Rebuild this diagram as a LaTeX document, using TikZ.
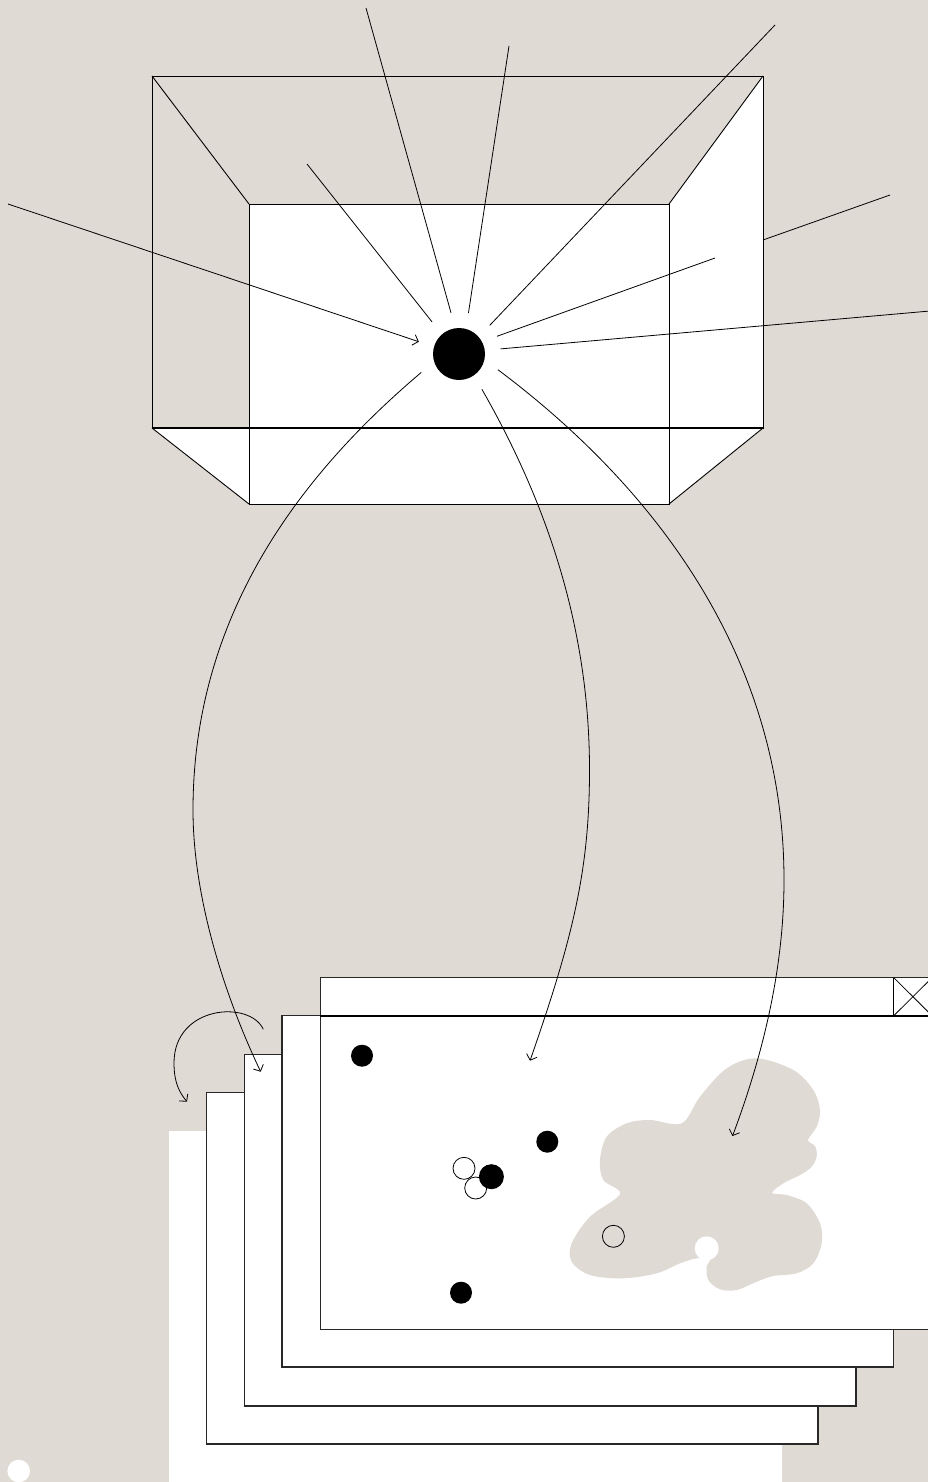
\documentclass[tikz,border=0pt]{standalone}
\usepackage{tikz}
\usetikzlibrary{arrows.meta}
\definecolor{paper}{RGB}{224,218,212}
\definecolor{inkgrey}{RGB}{40,40,40}

\begin{document}
\begin{tikzpicture}[x=1pt,y=-1pt,
    ray/.style={line width=0.8pt},
    flow/.style={line width=0.8pt,-{Straight Barb[length=5pt,width=11pt]}},
    sheet/.style={fill=white,draw=inkgrey,line width=1.1pt},
    dot/.style={circle,fill=black,inner sep=0pt,minimum size=22pt},
    hole/.style={circle,draw=black,line width=0.8pt,inner sep=0pt,minimum size=22pt}]
  \useasboundingbox (0,0) rectangle (928,1482);
  \fill[paper] (0,0) rectangle (928,1482);

  % --- TOP: the box seen in perspective --------------------------------
  \fill[white] (249,204) -- (669,204) -- (763,76) -- (763,428) -- (669,504)
    -- (249,504) -- (152,428) -- (249,428) -- cycle;
  \draw[line width=0.9pt] (152,76) rectangle (763,428);
  \draw[line width=0.9pt] (249,204) rectangle (669,504);
  \draw[line width=1.4pt] (152,428) -- (763,428);
  \draw[line width=0.9pt] (152,76) -- (249,204);
  \draw[line width=0.9pt] (763,76) -- (669,204);
  \draw[line width=0.9pt] (152,428) -- (249,504);
  \draw[line width=0.9pt] (763,428) -- (669,504);

  % the source point
  \node[circle,fill=black,inner sep=0pt,minimum size=52pt,outer sep=16pt]
    (src) at (459,354) {};

  % --- rays towards the source ------------------------------------------
  \coordinate (r1) at (8,204);
  \coordinate (r2) at (307,164);
  \coordinate (r3) at (366,8);
  \coordinate (r4) at (509,46);
  \coordinate (r5) at (775,25);
  \coordinate (r6) at (715,258);
  \coordinate (r7) at (890,195);
  \coordinate (r7b) at (763,240);
  \coordinate (r8) at (930,311);
  \draw[flow] (r1) -- (src.163);
  \draw[ray] (r2) -- (src.130);
  \draw[ray] (r3) -- (src.101);
  \draw[ray] (r4) -- (src.77);
  \draw[ray] (r5) -- (src.43);
  \draw[ray] (r6) -- (src.25);
  \draw[ray] (r7) -- (r7b);
  \draw[ray] (r8) -- (src.7);

  % --- BOTTOM: stack of windows -----------------------------------------
  \fill[white] (169,1131) rectangle (781.6,1490);
  \draw[sheet] (206.6,1092.7) rectangle (818,1444);
  \draw[sheet] (244.3,1054.7) rectangle (856,1406);
  \draw[sheet] (282,1015.7) rectangle (893.8,1367);
  \draw[sheet] (320.3,977.7) rectangle (932,1329.3);
  \draw[line width=1.6pt] (320.3,1015.7) -- (932,1015.7);
  % close button
  \draw[line width=1.3pt] (893.8,977.7) -- (893.8,1015.7);
  \draw[line width=0.8pt] (893.8,977.7) -- (932,1015.7);
  \draw[line width=0.8pt] (893.8,1015.7) -- (932,977.7);

  % the grey patch
  \fill[paper] plot[smooth cycle,tension=0.55] coordinates {
    (756.7,1058.3) (793.3,1070) (813.3,1090) (820,1110) (816.7,1126.7)
    (808,1140) (815,1146) (816.7,1156) (811.7,1166.7) (800,1175)
    (783.3,1183.3) (772,1193) (786.7,1195) (806.7,1203.3) (820,1223.3)
    (821.7,1243.3) (813.3,1263.3) (796.7,1273.3) (773.3,1276) (756.7,1281.7)
    (736.7,1290) (720,1289.3) (708.3,1280) (706.7,1266.7) (710,1259)
    (696.7,1258.3) (680,1263.3) (656.7,1273.3) (623.3,1278.3) (590,1275)
    (571.7,1261.7) (571.7,1243.3) (590,1216.7) (620,1194) (603.3,1180)
    (600,1160) (606.7,1136.7) (626.7,1123.3) (650,1120) (681.7,1123.3)
    (700,1096.7) (726.7,1068.3)};
  \fill[white] (706.7,1248.3) circle[radius=12];

  % points on the front window
  \node[dot] (d1) at (362,1055.7) {};
  \node[dot] (d2) at (547.3,1141.7) {};
  \node[hole,fill=white] (h1) at (464,1168.3) {};
  \node[hole,fill=white] (h2) at (475.7,1188) {};
  \node[dot,minimum size=25pt] (d3) at (491.4,1176.7) {};
  \node[dot] (d4) at (461,1292.7) {};
  \node[hole] (h3) at (613.4,1236.3) {};

  % --- projections from the source onto the windows --------------------
  \coordinate (t1) at (260.7,1071.7);
  \coordinate (t2) at (530,1060.7);
  \coordinate (t3) at (732.5,1136);
  \draw[flow] (src.-154) .. controls (306,470) and (193,610) .. (193,810)
    .. controls (193,900) and (226.3,999.7) .. (t1);
  \draw[flow] (src.-57) .. controls (542,494.4) and (589.5,620) .. (589.5,770)
    .. controls (589.5,870) and (572.9,937.8) .. (t2);
  \draw[flow] (src.-22) .. controls (658.4,490) and (784,660) .. (784,880)
    .. controls (784,960) and (767,1044) .. (t3);

  % flip back to the previous window
  \coordinate (f0) at (263.3,1029.3);
  \coordinate (f1) at (187,1101.7);
  \draw[flow] (f0) .. controls (250,1000) and (174,1005) .. (174,1063)
    .. controls (174,1082) and (179,1092) .. (f1);

  % lone point
  \fill[white] (18.7,1471) circle[radius=11.3];
\end{tikzpicture}
\end{document}
